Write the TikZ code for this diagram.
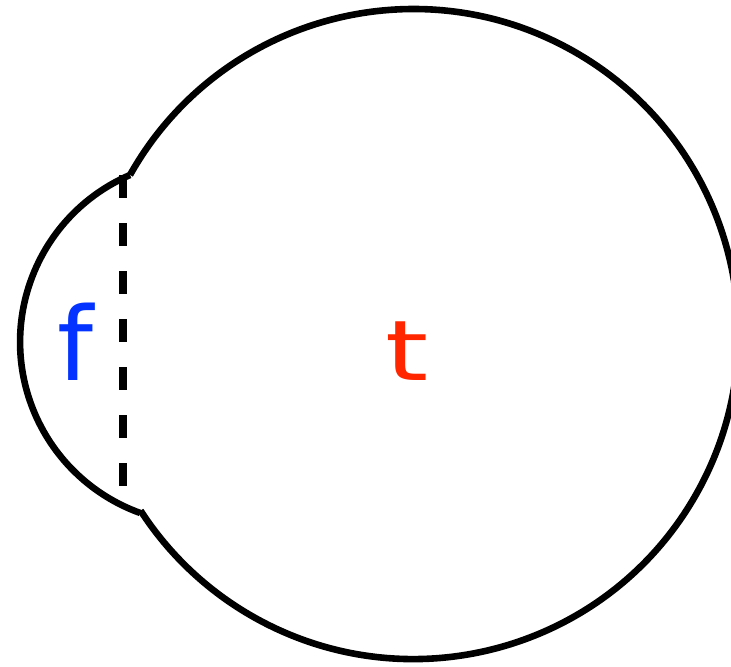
\documentclass[tikz,border=0pt]{standalone}
\usepackage{fontspec}
\setmainfont{DejaVu Sans}
\definecolor{fblue}{RGB}{4,51,255}
\definecolor{tred}{RGB}{255,38,0}
\begin{document}
\begin{tikzpicture}[x=0.5pt,y=0.5pt,
  outline/.style={line width=3.3pt,black},
  cut/.style={line width=4pt,black,dash pattern=on 11.5pt off 12.5pt},
  lbl/.style={anchor=base,inner sep=0pt,font=\fontsize{51}{51}\selectfont}]
\useasboundingbox (0,0) rectangle (731,666);
\coordinate (topj) at (130,491);
\coordinate (botj) at (140,153);
\coordinate (dtop) at (123,491);
\coordinate (dbot) at (123,179);
\draw[outline] (topj) arc[start angle=150.7, end angle=-147.1, radius=325];
\draw[outline] (topj) arc[start angle=113.3, end angle=250.1, radius=181.8];
\draw[cut] (dtop) -- (dbot);
\node[lbl,text=fblue] (f) at (75,286) {f};
\node[lbl,text=tred] (t) at (407,286) {\scalebox{1.08}[0.82]{t}};
\end{tikzpicture}
\end{document}
